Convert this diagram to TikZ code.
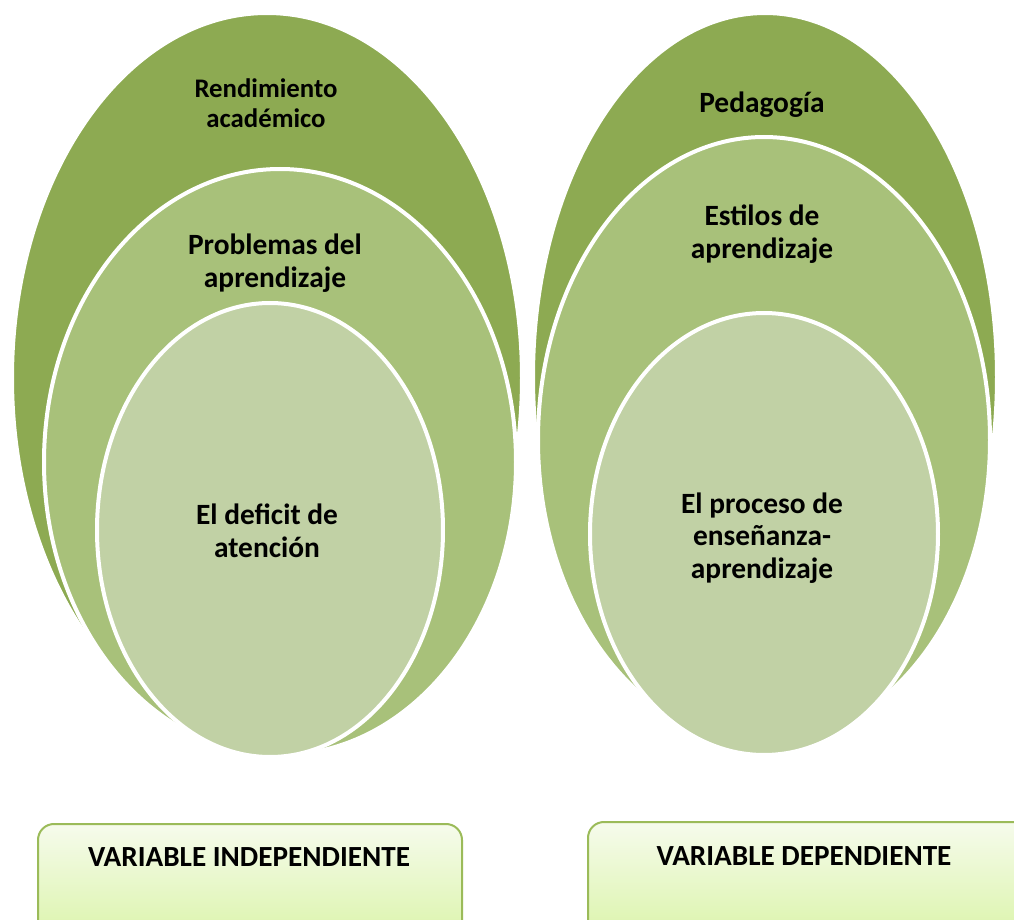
\documentclass[tikz,border=0pt]{standalone}
\usepackage{fontspec}
\setmainfont{Carlito}
\usepackage{tikz}

\definecolor{ringdark}{RGB}{141,170,82}
\definecolor{ringmid}{RGB}{168,193,122}
\definecolor{ringlight}{RGB}{193,209,165}
\definecolor{boxline}{RGB}{155,187,89}
\definecolor{boxtop}{RGB}{246,251,236}
\definecolor{boxbottom}{RGB}{218,244,168}

\tikzset{
  ring/.style={draw=white, line width=2pt},
  ringtext/.style={align=center, font=\bfseries\fontsize{14.7}{16.3}\selectfont, text=black},
  varbox/.style={draw=boxline, line width=1pt, rounded corners=8pt,
    top color=boxtop, bottom color=boxbottom, anchor=north west},
  vartext/.style={font=\bfseries\fontsize{14.6}{16}\selectfont, text=black}
}

\begin{document}
\begin{tikzpicture}[x=0.5pt,y=-0.5pt]
  \useasboundingbox (0,0) rectangle (1014,920);
  \clip (0,0) rectangle (1014,920);

  % variable independiente
  \fill[ringdark,ring] (267,378) ellipse [x radius=255, y radius=365];
  \fill[ringmid,ring] (280,462) ellipse [x radius=236, y radius=293];
  \fill[ringlight,ring] (270,530) ellipse [x radius=173, y radius=227];
  \node[ringtext, font=\bfseries\fontsize{13.4}{15}\selectfont] (rend) at (266,103) {Rendimiento\\acad\'emico};
  \node[ringtext] (probl) at (275,263) {Problemas del\\aprendizaje};
  \node[ringtext] (defic) at (267,531) {El deficit de\\atenci\'on};

  % variable dependiente
  \fill[ringdark,ring] (765,377) ellipse [x radius=232, y radius=364];
  \fill[ringmid,ring] (764,440) ellipse [x radius=226, y radius=303];
  \fill[ringlight,ring] (764,534) ellipse [x radius=174, y radius=221];
  \node[ringtext] (pedag) at (762,105) {Pedagog\'ia};
  \node[ringtext] (estil) at (762,234) {Estilos de\\aprendizaje};
  \node[ringtext] (proce) at (762,538) {El proceso de\\ense\~nanza-\\aprendizaje};

  % cajas
  \node[varbox, minimum width=212pt, minimum height=60pt] (indep) at (37,823) {};
  \node[vartext] (indeplbl) at (249,857) {VARIABLE INDEPENDIENTE};
  \node[varbox, minimum width=220pt, minimum height=60pt] (depen) at (587,821) {};
  \node[vartext] (depenlbl) at (804,856) {VARIABLE DEPENDIENTE};
\end{tikzpicture}
\end{document}
